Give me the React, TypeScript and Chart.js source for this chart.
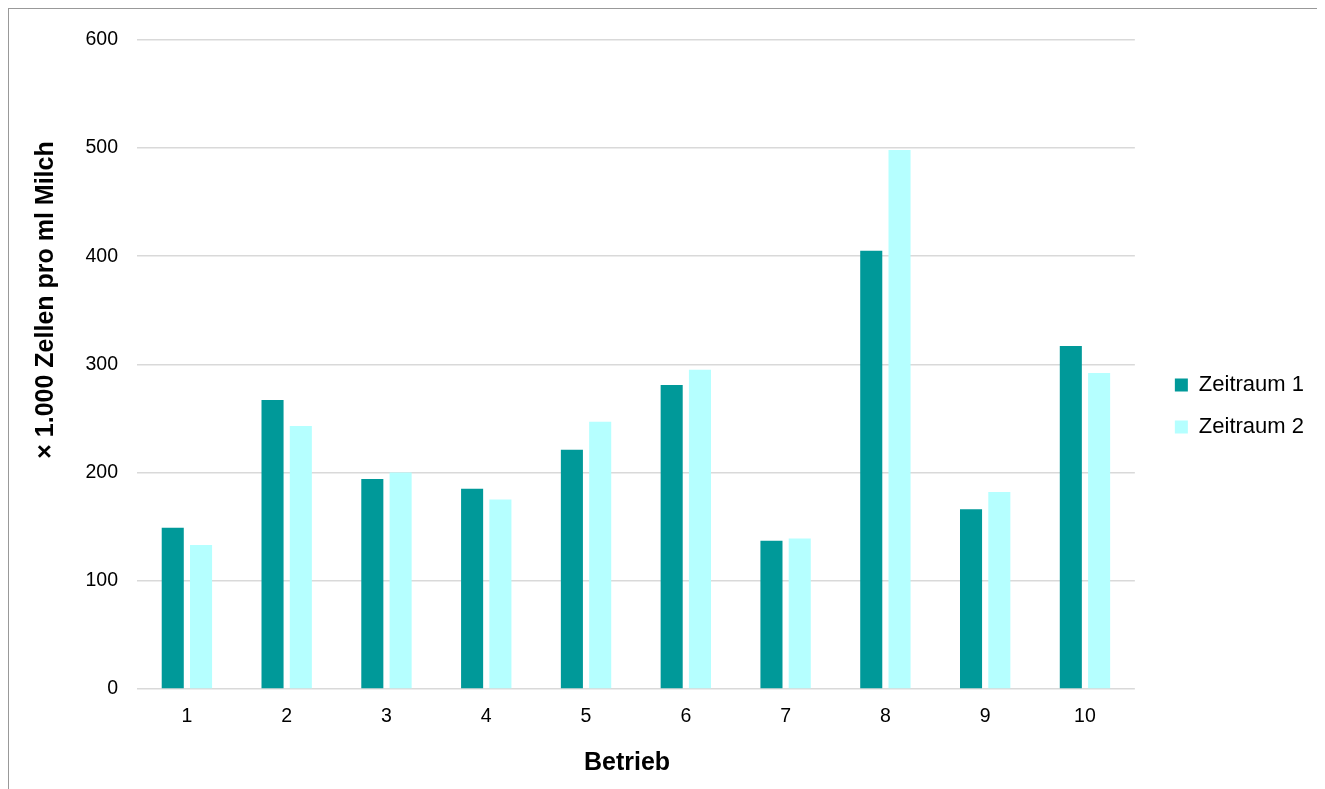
import React, { useEffect, useRef } from "react";
import { Chart, registerables } from "chart.js";

Chart.register(...registerables);

const categories = ["1", "2", "3", "4", "5", "6", "7", "8", "9", "10"];
const seriesNames = ["Zeitraum 1", "Zeitraum 2"];
const zeitraum1 = [149, 267, 194, 185, 221, 281, 137, 405, 166, 317];
const zeitraum2 = [133, 243, 200, 175, 247, 295, 139, 498, 182, 292];
const yTicks = [0, 100, 200, 300, 400, 500, 600];
const yTitle = "× 1.000 Zellen pro ml Milch";
const xTitle = "Betrieb";

const FONT = "'Liberation Sans', Arial, Helvetica, sans-serif";

const titlesPlugin = {
  id: "customTitles",
  afterLayout(chart: any) {
    const l = chart.legend;
    if (l) {
      l.left += 20;
      l.right += 20;
      l.top -= 8;
      l.bottom -= 8;
    }
  },
  afterDraw(chart: any) {
    const ctx = chart.ctx;
    ctx.save();
    ctx.fillStyle = "#000";
    ctx.font = `bold 25px ${FONT}`;
    ctx.textAlign = "center";
    ctx.textBaseline = "alphabetic";
    ctx.save();
    ctx.translate(44, 291);
    ctx.rotate(-Math.PI / 2);
    ctx.fillText(yTitle, 0, 0);
    ctx.restore();
    ctx.fillText(xTitle, 618, 761);
    ctx.restore();
  },
};

export default function App() {
  const ref = useRef<HTMLCanvasElement | null>(null);

  useEffect(() => {
    if (!ref.current) return;
    const chart = new Chart(ref.current, {
      type: "bar",
      data: {
        labels: categories,
        datasets: [
          {
            label: seriesNames[0],
            data: zeitraum1,
            backgroundColor: "#009999",
            borderWidth: 0,
          },
          {
            label: seriesNames[1],
            data: zeitraum2,
            backgroundColor: "#b5ffff",
            borderWidth: 0,
          },
        ],
      },
      plugins: [titlesPlugin],
      options: {
        responsive: false,
        animation: false,
        layout: { padding: { top: 30, right: 31, left: 0, bottom: 0 } },
        datasets: {
          bar: { categoryPercentage: 0.567, barPercentage: 0.78 },
        },
        plugins: {
          legend: {
            position: "right",
            align: "center",
            labels: {
              font: { family: FONT, size: 22 },
              color: "#000",
              boxWidth: 13,
              boxHeight: 13,
              padding: 20,
            },
          },
          tooltip: { enabled: false },
        },
        scales: {
          x: {
            grid: { display: false, drawTicks: false },
            border: { display: false },
            ticks: {
              font: { family: FONT, size: 19.5 },
              color: "#000",
              padding: 16,
            },
            afterFit: (scale: any) => {
              scale.height = 100;
            },
          },
          y: {
            min: 0,
            max: 600,
            afterBuildTicks: (scale: any) => {
              scale.ticks = yTicks.map((v) => ({ value: v }));
            },
            ticks: {
              font: { family: FONT, size: 19.5 },
              color: "#000",
              padding: 19,
            },
            grid: { color: "#d9d9d9", lineWidth: 1.5, drawTicks: false },
            border: { display: false },
            afterFit: (scale: any) => {
              scale.width = 128;
            },
          },
        },
      },
    });
    return () => chart.destroy();
  }, []);

  return (
    <div
      style={{
        width: 1316,
        height: 780,
        borderLeft: "1px solid #999",
        borderTop: "1px solid #999",
        background: "#fff",
      }}
    >
      <canvas ref={ref} width={1316} height={780} style={{ display: "block" }} />
    </div>
  );
}
